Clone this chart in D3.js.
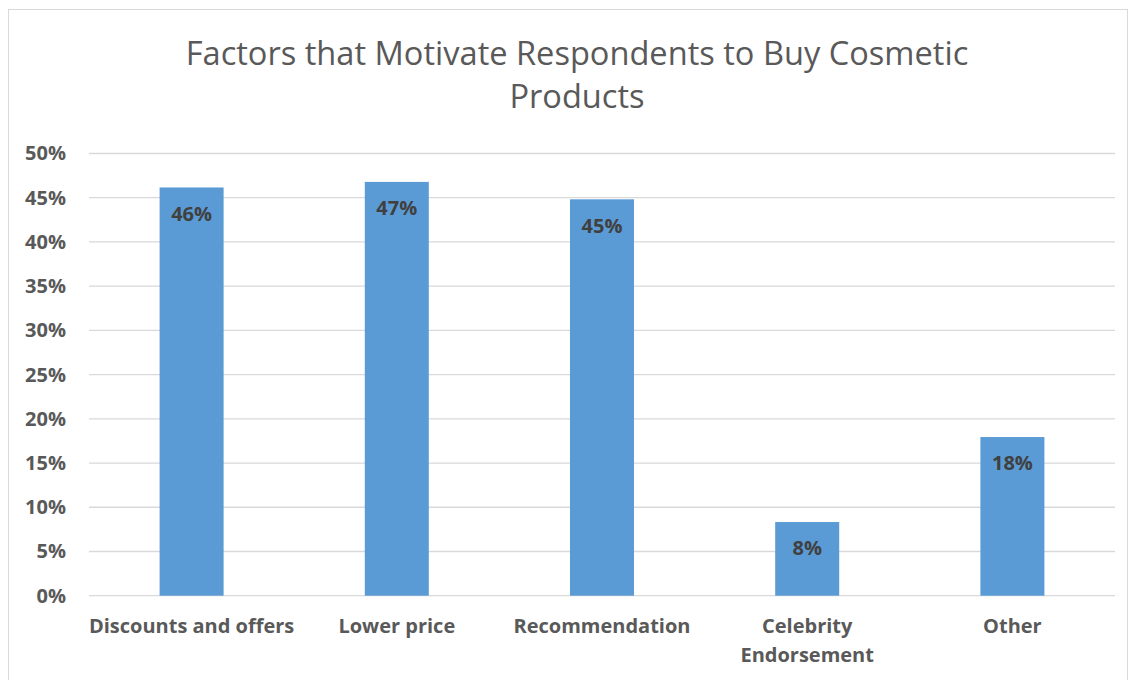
<!DOCTYPE html>
<html>
<head>
<meta charset="utf-8">
<script src="https://cdn.jsdelivr.net/npm/d3@7/dist/d3.min.js"></script>
<style>
  html, body { margin: 0; padding: 0; background: #fff; }
  svg { display: block; font-family: "Open Sans", "Noto Sans", sans-serif; }
</style>
</head>
<body>
<svg id="chart" width="1130" height="680"></svg>
<script>
// Survey results: share of respondents citing each factor
const categories = ["Discounts and offers", "Lower price", "Recommendation", "Celebrity Endorsement", "Other"];
const categoryLines = [["Discounts and offers"], ["Lower price"], ["Recommendation"], ["Celebrity", "Endorsement"], ["Other"]];
const shares = [0.4616, 0.4679, 0.4482, 0.0833, 0.1794];
const yTicks = [0, 0.05, 0.10, 0.15, 0.20, 0.25, 0.30, 0.35, 0.40, 0.45, 0.50];
const titleLines = ["Factors that Motivate Respondents to Buy Cosmetic", "Products"];

const svg = d3.select("#chart");
const plot = { left: 89, right: 1115, top: 153.5, bottom: 595.7 };

// chart frame
svg.append("rect")
  .attr("x", 8.5).attr("y", 9.5)
  .attr("width", 1119).attr("height", 690)
  .attr("fill", "#fff").attr("stroke", "#d9d9d9").attr("stroke-width", 1);

const x = d3.scaleBand().domain(categories).range([plot.left, plot.right]).padding(0);
const y = d3.scaleLinear().domain([0, 0.5]).range([plot.bottom, plot.top]);
const barW = x.bandwidth() * 0.312;

// gridlines
svg.append("g")
  .selectAll("line").data(yTicks).join("line")
  .attr("x1", plot.left).attr("x2", plot.right)
  .attr("y1", d => y(d)).attr("y2", d => y(d))
  .attr("stroke", "#d9d9d9").attr("stroke-width", 1.3);

// y axis labels
const yAxis = d3.axisLeft(y).tickValues(yTicks).tickFormat(d3.format(".0%")).tickSize(0).tickPadding(0);
const gy = svg.append("g").attr("transform", `translate(66,0)`).call(yAxis);
gy.select(".domain").remove();
gy.selectAll("text")
  .attr("fill", "#595959").attr("font-size", 20).attr("font-weight", 700)
  .attr("font-family", "'Open Sans', sans-serif");

// bars
svg.append("g")
  .selectAll("rect").data(shares).join("rect")
  .attr("x", (d, i) => x(categories[i]) + x.bandwidth() / 2 - barW / 2)
  .attr("width", barW)
  .attr("y", d => y(d))
  .attr("height", d => y(0) - y(d))
  .attr("fill", "#5b9bd5");

// value labels inside bar tops
svg.append("g")
  .selectAll("text").data(shares).join("text")
  .attr("x", (d, i) => x(categories[i]) + x.bandwidth() / 2)
  .attr("y", d => y(d) + 28)
  .attr("text-anchor", "middle").attr("dominant-baseline", "middle")
  .attr("fill", "#404040").attr("font-size", 20).attr("font-weight", 700)
  .text(d => d3.format(".0%")(d));

// category labels
const cat = svg.append("g")
  .selectAll("text").data(categories).join("text")
  .attr("x", d => x(d) + x.bandwidth() / 2)
  .attr("y", 628)
  .attr("text-anchor", "middle").attr("dominant-baseline", "middle")
  .attr("fill", "#595959").attr("font-size", 20).attr("font-weight", 700);
cat.selectAll("tspan").data((d, i) => categoryLines[i]).join("tspan")
  .attr("x", function () { return d3.select(this.parentNode).attr("x"); })
  .attr("dy", (d, j) => j === 0 ? 0 : 29)
  .text(d => d);

// title
svg.append("g")
  .selectAll("text").data(titleLines).join("text")
  .attr("x", 577).attr("y", (d, i) => 56 + i * 43)
  .attr("text-anchor", "middle").attr("dominant-baseline", "middle")
  .attr("fill", "#595959").attr("font-size", 32.6)
  .text(d => d);
</script>
</body>
</html>
